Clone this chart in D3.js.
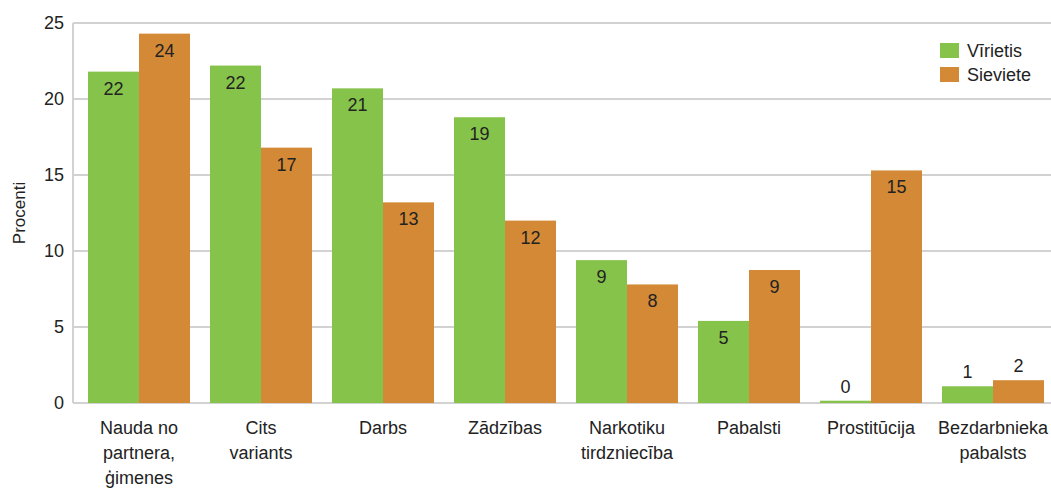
<!DOCTYPE html>
<html>
<head>
<meta charset="utf-8">
<script src="https://cdnjs.cloudflare.com/ajax/libs/d3/7.8.5/d3.min.js"></script>
<style>
  body { margin: 0; background: #fff; }
  svg text { font-family: "Liberation Sans", Arial, sans-serif; fill: #222; }
</style>
</head>
<body>
<svg id="chart" width="1051" height="488"></svg>
<script>
// data
var categories = [
  ["Nauda no", "partnera,", "ģimenes"],
  ["Cits", "variants"],
  ["Darbs"],
  ["Zādzības"],
  ["Narkotiku", "tirdzniecība"],
  ["Pabalsti"],
  ["Prostitūcija"],
  ["Bezdarbnieka", "pabalsts"]
];
var seriesNames = ["Vīrietis", "Sieviete"];
var menValues = [21.8, 22.2, 20.7, 18.8, 9.4, 5.4, 0.15, 1.1];
var womenValues = [24.3, 16.8, 13.2, 12.0, 7.8, 8.75, 15.3, 1.5];
var yTicks = [0, 5, 10, 15, 20, 25];
var colors = ["#86c34a", "#d38935"];

var svg = d3.select("#chart");
// note: "top" is taken by window.top, so plot edges get their own names
var plotLeft = 73, plotRight = 1051, plotTop = 23, plotBottom = 403;

var x0 = d3.scaleBand()
  .domain(d3.range(categories.length))
  .range([78, 1054])
  .paddingInner(20 / 122)
  .paddingOuter(10 / 122);
var x1 = d3.scaleBand()
  .domain([0, 1])
  .range([0, x0.bandwidth()]);
var y = d3.scaleLinear().domain([0, 25]).range([plotBottom, plotTop]);

// grid lines
svg.append("g").selectAll("line")
  .data(yTicks)
  .enter().append("line")
  .attr("x1", plotLeft).attr("x2", plotRight)
  .attr("y1", function(d) { return y(d); })
  .attr("y2", function(d) { return y(d); })
  .attr("stroke", "#d2d2d2")
  .attr("stroke-width", 2);

// left axis line
svg.append("line")
  .attr("x1", plotLeft).attr("x2", plotLeft)
  .attr("y1", y(25)).attr("y2", y(0))
  .attr("stroke", "#d2d2d2").attr("stroke-width", 2);

// y tick labels
svg.append("g").selectAll("text")
  .data(yTicks)
  .enter().append("text")
  .attr("x", 64)
  .attr("y", function(d) { return y(d); })
  .attr("dy", "0.36em")
  .attr("text-anchor", "end")
  .style("font-size", "18px")
  .text(function(d) { return d; });

// y axis title
svg.append("text")
  .attr("transform", "translate(25," + ((plotTop + plotBottom) / 2) + ") rotate(-90)")
  .attr("text-anchor", "middle")
  .style("font-size", "17px")
  .text("Procenti");

// bars
var rows = categories.map(function(c, i) {
  return { i: i, vals: [menValues[i], womenValues[i]] };
});

var groups = svg.append("g").selectAll("g")
  .data(rows)
  .enter().append("g")
  .attr("transform", function(d) { return "translate(" + x0(d.i) + ",0)"; });

groups.selectAll("rect")
  .data(function(d) { return d.vals.map(function(v, s) { return { s: s, v: v }; }); })
  .enter().append("rect")
  .attr("x", function(d) { return x1(d.s); })
  .attr("width", x1.bandwidth())
  .attr("y", function(d) { return y(d.v); })
  .attr("height", function(d) { return y(0) - y(d.v); })
  .attr("fill", function(d) { return colors[d.s]; });

groups.selectAll("text.val")
  .data(function(d) { return d.vals.map(function(v, s) { return { s: s, v: v }; }); })
  .enter().append("text")
  .attr("class", "val")
  .attr("x", function(d) { return x1(d.s) + x1.bandwidth() / 2; })
  .attr("y", function(d) { return d.v < 3 ? y(d.v) - 8 : y(d.v) + 23; })
  .attr("text-anchor", "middle")
  .style("font-size", "18px")
  .text(function(d) { return Math.round(d.v); });

// category labels
var catLabels = svg.append("g").selectAll("text")
  .data(rows)
  .enter().append("text")
  .attr("x", function(d) { return x0(d.i) + x0.bandwidth() / 2; })
  .attr("y", 434)
  .attr("text-anchor", "middle")
  .style("font-size", "18px");
catLabels.selectAll("tspan")
  .data(function(d) { return categories[d.i]; })
  .enter().append("tspan")
  .attr("x", function() { return d3.select(this.parentNode).attr("x"); })
  .attr("dy", function(d, k) { return k === 0 ? 0 : 25; })
  .text(function(d) { return d; });

// legend
var legend = svg.append("g").attr("transform", "translate(940,43)");
legend.append("rect").attr("x", -6).attr("y", -8).attr("width", 110).attr("height", 54).attr("fill", "#fff");
seriesNames.forEach(function(name, k) {
  legend.append("rect")
    .attr("x", 0).attr("y", k * 24)
    .attr("width", 19).attr("height", 15)
    .attr("fill", colors[k]);
  legend.append("text")
    .attr("x", 27).attr("y", k * 24 + 8)
    .attr("dy", "0.36em")
    .style("font-size", "18px")
    .text(name);
});
</script>
</body>
</html>
